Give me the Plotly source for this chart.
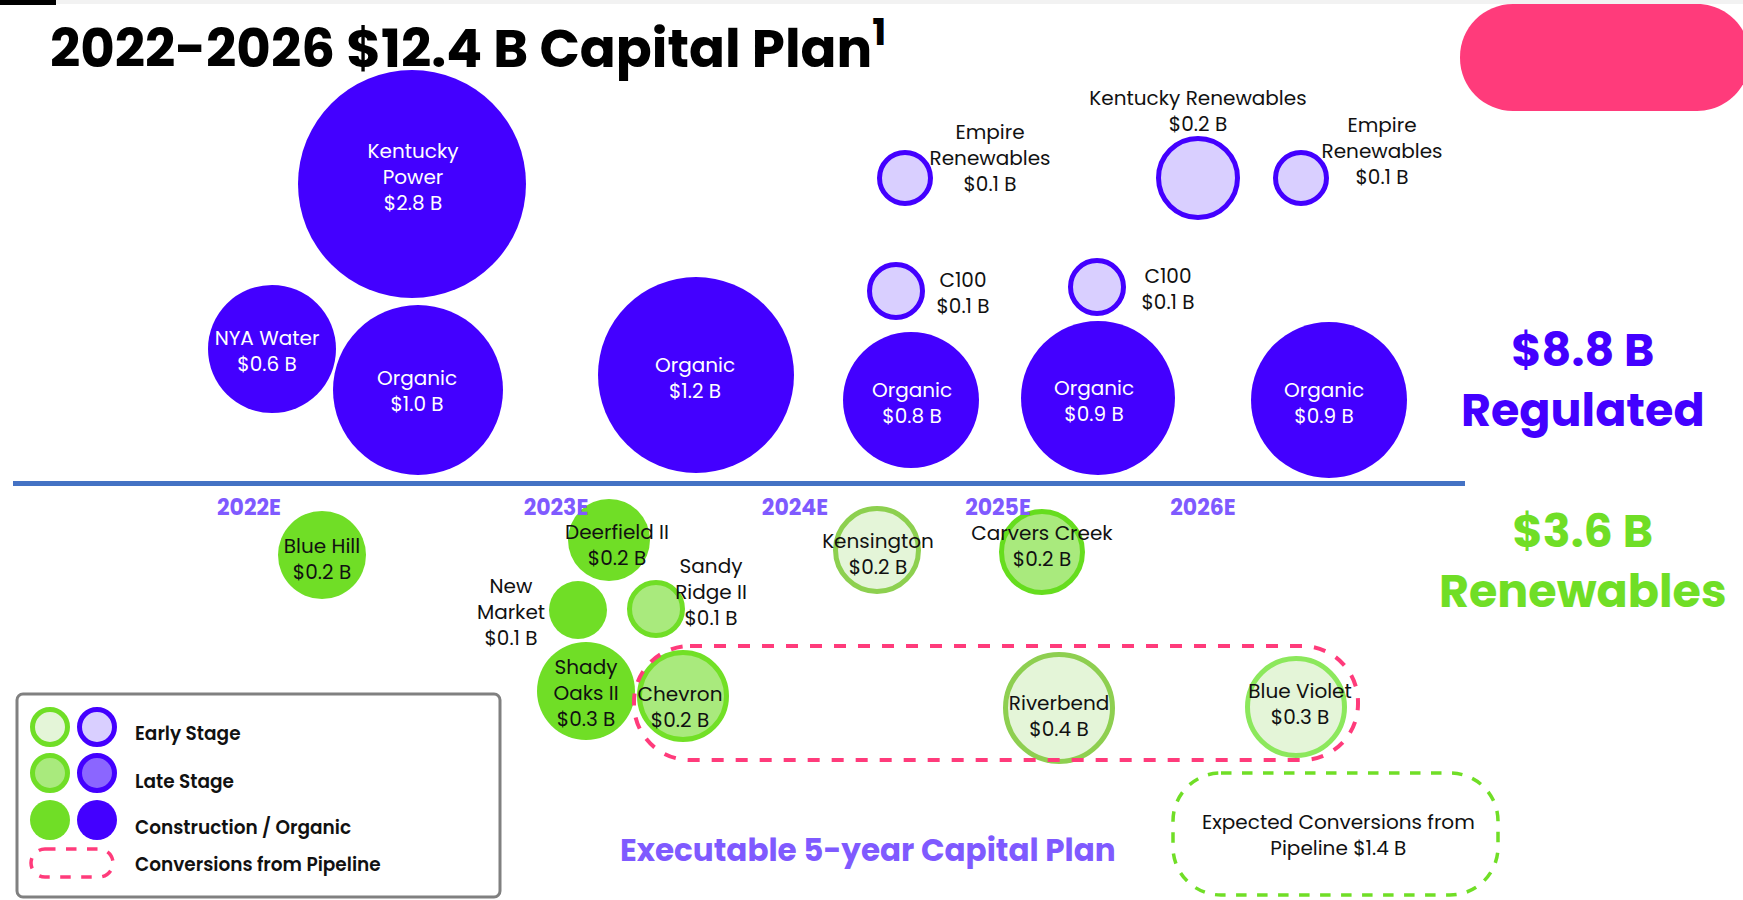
import plotly.graph_objects as go

W, H = 1743, 900

# ------------------------------------------------------------------ data
title_text = "2022-2026 $12.4 B Capital Plan<sup>1</sup>"
years = ["2022E", "2023E", "2024E", "2025E", "2026E"]

reg_names = ["Kentucky<br>Power", "NYA Water", "Organic", "Organic", "Organic", "Organic", "Organic",
             "C100", "C100", "Empire<br>Renewables", "Kentucky Renewables", "Empire<br>Renewables"]
reg_values = [2.8, 0.6, 1.0, 1.2, 0.8, 0.9, 0.9, 0.1, 0.1, 0.1, 0.2, 0.1]
reg_stage = ["construction"] * 7 + ["early"] * 5

ren_names = ["Blue Hill", "Deerfield II", "New<br>Market", "Sandy<br>Ridge II", "Shady<br>Oaks II",
             "Chevron", "Kensington", "Carvers Creek", "Riverbend", "Blue Violet"]
ren_values = [0.2, 0.2, 0.1, 0.1, 0.3, 0.2, 0.2, 0.2, 0.4, 0.3]
ren_stage = ["construction", "construction", "construction", "late", "construction",
             "late", "early", "late", "early", "early"]

regulated_total = 8.8
renewables_total = 3.6
pipeline_total = 1.4
legend_labels = ["Early Stage", "Late Stage", "Construction / Organic", "Conversions from Pipeline"]

# ------------------------------------------------------------------ layout geometry (pixels)
reg_cx = [412, 272, 418, 696, 911, 1098, 1329, 896, 1097, 905, 1198, 1301]
reg_cy = [184, 349, 390, 375, 400, 398, 400, 291, 287, 178, 178, 178]
reg_r = [114, 64, 85, 98, 68, 77, 78, 29, 29, 28, 42, 28]
reg_tx = [413, 267, 417, 695, 912, 1094, 1324, 963, 1168, 990, 1198, 1382]
reg_ty = [179, 353, 393, 380, 405, 403, 405, 295, 291, 160, 113, 153]

ren_cx = [322, 609, 578, 656, 586, 683, 877, 1042, 1059, 1296]
ren_cy = [555, 540, 610, 609, 691, 696, 550, 552, 708, 707]
ren_r = [44, 41, 29, 29, 49, 46, 44, 43, 56, 51]
ren_tx = [322, 617, 511, 711, 586, 680, 878, 1042, 1059, 1300]
ren_ty = [561, 547, 614, 594, 695, 709, 556, 548, 718, 706]
ren_stroke = ["#70DE26", "#70DE26", "#70DE26", "#70DE26", "#70DE26",
              "#72E026", "#8DD04F", "#66DD1E", "#8ECF50", "#8CE85C"]

year_x = [249, 556, 795, 998, 1203]
year_y = 509

FONT = "Poppins, Inter, 'Open Sans', sans-serif"
BLUE = "#4300FF"
GREEN = "#70DE26"
PURPLE_TXT = "#7F5AFF"
PINK = "#FF3B7B"

fill = {
    ("reg", "construction"): BLUE, ("reg", "late"): "#8B66FF", ("reg", "early"): "#D9CFFF",
    ("ren", "construction"): GREEN, ("ren", "late"): "#A9EA7D", ("ren", "early"): "#E4F5D8",
}
STROKE_W = 5


def money(v):
    return f"${v:.1f} B"


fig = go.Figure()


def add_bubbles(stages, cx, cy, r, kind, strokes=None):
    sizes, cols, lcols, lws = [], [], [], []
    for i, st in enumerate(stages):
        cols.append(fill[(kind, st)])
        if st == "construction":
            sizes.append(2 * r[i]); lws.append(0); lcols.append(fill[(kind, st)])
        else:
            sizes.append(2 * r[i] - STROKE_W); lws.append(STROKE_W)
            lcols.append(strokes[i] if strokes else (BLUE if kind == "reg" else GREEN))
    fig.add_trace(go.Scatter(
        x=cx, y=cy, mode="markers", hoverinfo="skip", showlegend=False,
        marker=dict(size=sizes, color=cols, opacity=1,
                    line=dict(color=lcols, width=lws)),
    ))


add_bubbles(reg_stage, reg_cx, reg_cy, reg_r, "reg")
add_bubbles(ren_stage, ren_cx, ren_cy, ren_r, "ren", ren_stroke)

# bubble labels
reg_txt_col = ["#FFFFFF" if s == "construction" else "#111111" for s in reg_stage]
fig.add_trace(go.Scatter(
    x=reg_tx, y=reg_ty, mode="text",
    text=[f"{n}<br>{money(v)}" for n, v in zip(reg_names, reg_values)],
    textposition="middle center",
    textfont=dict(family=FONT, size=20, color=reg_txt_col),
    hoverinfo="skip", showlegend=False,
))
fig.add_trace(go.Scatter(
    x=ren_tx, y=ren_ty, mode="text",
    text=[f"{n}<br>{money(v)}" for n, v in zip(ren_names, ren_values)],
    textposition="middle center",
    textfont=dict(family=FONT, size=20, color="#111111"),
    hoverinfo="skip", showlegend=False,
))

# year labels
fig.add_trace(go.Scatter(
    x=year_x, y=[year_y] * len(years), mode="text", text=years, textposition="middle center",
    textfont=dict(family=FONT, size=22, color=PURPLE_TXT, weight=700),
    hoverinfo="skip", showlegend=False,
))

# legend glyphs
leg_rows_y = [727, 773, 820]
leg_stages = ["early", "late", "construction"]
lx, ly, ls, lc, llc, llw = [], [], [], [], [], []
for yy, st in zip(leg_rows_y, leg_stages):
    for xx, kind in ((50, "ren"), (97, "reg")):
        lx.append(xx); ly.append(yy)
        lc.append(fill[(kind, st)])
        if st == "construction":
            ls.append(40); llw.append(0); llc.append(fill[(kind, st)])
        else:
            ls.append(35); llw.append(5); llc.append(BLUE if kind == "reg" else GREEN)
fig.add_trace(go.Scatter(
    x=lx, y=ly, mode="markers", hoverinfo="skip", showlegend=False,
    marker=dict(size=ls, color=lc, opacity=1, line=dict(color=llc, width=llw)),
))


def rrect(x0, y0, x1, y1, r):
    k = 0.5523 * r
    return (f"M{x0 + r},{y0} L{x1 - r},{y0} "
            f"C{x1 - r + k},{y0} {x1},{y0 + r - k} {x1},{y0 + r} "
            f"L{x1},{y1 - r} "
            f"C{x1},{y1 - r + k} {x1 - r + k},{y1} {x1 - r},{y1} "
            f"L{x0 + r},{y1} "
            f"C{x0 + r - k},{y1} {x0},{y1 - r + k} {x0},{y1 - r} "
            f"L{x0},{y0 + r} "
            f"C{x0},{y0 + r - k} {x0 + r - k},{y0} {x0 + r},{y0} Z")


shapes = [
    dict(type="rect", xref="x", yref="y", x0=0, x1=W, y0=0, y1=4, fillcolor="#F2F2F2", line_width=0, layer="below"),
    dict(type="rect", xref="x", yref="y", x0=0, x1=56, y0=0, y1=5, fillcolor="#000000", line_width=0, layer="below"),
    dict(type="path", xref="x", yref="y", path=rrect(1460, 4, 1750, 111, 53),
         fillcolor=PINK, line_width=0, layer="below"),
    dict(type="line", xref="x", yref="y", x0=13, x1=1465, y0=483.5, y1=483.5,
         line=dict(color="#4472C4", width=5), layer="below"),
    dict(type="path", xref="x", yref="y", path=rrect(634, 646, 1358, 760, 56),
         line=dict(color=PINK, width=4, dash="dash"), layer="above"),
    dict(type="path", xref="x", yref="y", path=rrect(1173, 773, 1498, 895, 48),
         line=dict(color=GREEN, width=3.5, dash="dash"), layer="below"),
    dict(type="path", xref="x", yref="y", path=rrect(17, 694, 500, 897, 6),
         line=dict(color="#808080", width=3), fillcolor="rgba(255,255,255,0)", layer="below"),
    dict(type="path", xref="x", yref="y", path=rrect(31, 849, 113, 877, 14),
         line=dict(color=PINK, width=3.5, dash="dash"), layer="above"),
]

annotations = [
    dict(x=48, y=46, text=title_text, showarrow=False, xanchor="left", yanchor="middle",
         font=dict(family=FONT, size=53, color="#000000", weight=700)),
    dict(x=1583, y=380, text=f"{money(regulated_total)}<br>Regulated", showarrow=False,
         font=dict(family=FONT, size=46, color=BLUE, weight=700)),
    dict(x=1583, y=561, text=f"{money(renewables_total)}<br>Renewables", showarrow=False,
         font=dict(family=FONT, size=46, color=GREEN, weight=700)),
    dict(x=868, y=850, text="Executable 5-year Capital Plan", showarrow=False,
         font=dict(family=FONT, size=31, color=PURPLE_TXT, weight=700)),
    dict(x=1338, y=835, text=f"Expected Conversions from<br>Pipeline {money(pipeline_total)}",
         showarrow=False, font=dict(family=FONT, size=20, color="#111111")),
]
for yy, lab in zip([733, 781, 827, 864], legend_labels):
    annotations.append(dict(x=133, y=yy, text=lab, showarrow=False, xanchor="left", yanchor="middle",
                            font=dict(family=FONT, size=18.5, color="#111111", weight=600)))

fig.update_layout(
    width=W, height=H, autosize=False,
    margin=dict(l=0, r=0, t=0, b=0),
    paper_bgcolor="#FFFFFF", plot_bgcolor="#FFFFFF",
    xaxis=dict(range=[0, W], visible=False, fixedrange=True),
    yaxis=dict(range=[H, 0], visible=False, fixedrange=True),
    shapes=shapes, annotations=annotations,
    showlegend=False,
)

fig.write_html("out.html", config={"displayModeBar": False},
               post_script="document.body.style.margin='0';document.body.style.overflow='hidden';")
